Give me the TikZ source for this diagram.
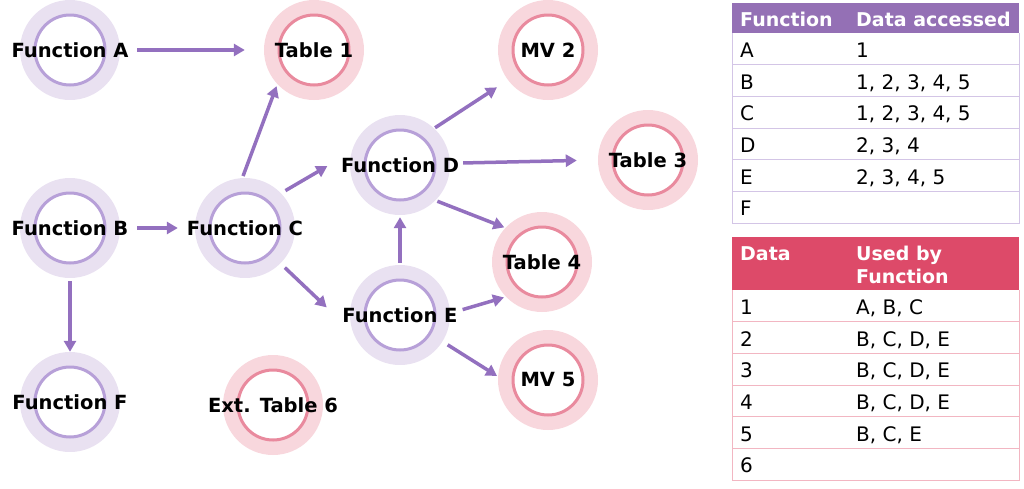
\documentclass[tikz,border=0pt]{standalone}
\usepackage{fontspec}
\setmainfont{DejaVu Sans}
\usetikzlibrary{arrows.meta}

\definecolor{fdisk}{HTML}{E9E1F1}
\definecolor{fring}{HTML}{B7A0D8}
\definecolor{tdisk}{HTML}{F8D7DD}
\definecolor{tring}{HTML}{E98A9E}
\definecolor{arrowc}{HTML}{9370BF}
\definecolor{headp}{HTML}{9470B5}
\definecolor{headr}{HTML}{DD4A69}
\definecolor{linep}{HTML}{D3C5E6}
\definecolor{liner}{HTML}{F2B6C2}

\tikzset{
  func/.style={circle, minimum size=100pt, inner sep=0pt, fill=fdisk,
    path picture={\draw[fring, line width=3pt, fill=white] (path picture bounding box.center) circle (35pt);}},
  tabl/.style={circle, minimum size=100pt, inner sep=0pt, fill=tdisk,
    path picture={\draw[tring, line width=3pt, fill=white] (path picture bounding box.center) circle (35pt);}},
  every label/.style={font=\fontsize{19.5}{22}\selectfont\bfseries, inner sep=0pt},
  link/.style={draw=arrowc, line width=3.5pt, -{Triangle[length=11pt,width=12pt]}},
  cell/.style={anchor=base west, inner sep=0pt, font=\fontsize{20}{22}\selectfont},
  head/.style={cell, text=white, font=\fontsize{19}{22}\selectfont\bfseries},
}

\begin{document}
\begin{tikzpicture}[x=1pt, y=-1pt]
\useasboundingbox (0,0) rectangle (1024,488);

% functions
\node[func, label=center:Function A] (fa) at (70,50) {};
\node[func, label=center:Function B] (fb) at (70,228) {};
\node[func, label=center:Function C] (fc) at (245,228) {};
\node[func, label=center:Function D] (fd) at (400,165) {};
\node[func, label=center:Function E] (fe) at (400,315) {};
\node[func, label=center:Function F] (ff) at (70,402) {};

% data
\node[tabl, label=center:Table 1] (t1) at (314,50) {};
\node[tabl, label=center:MV 2] (m2) at (548,50) {};
\node[tabl, label=center:Table 3] (t3) at (648,160) {};
\node[tabl, label=center:Table 4] (t4) at (542,262) {};
\node[tabl, label=center:MV 5] (m5) at (548,380) {};
\node[tabl, label=center:Ext. Table 6] (t6) at (273,405) {};

% arrows
\draw[link, shorten <=17pt, shorten >=19pt] (fa.east) -- (t1.west);
\draw[link, shorten <=17pt, shorten >=17pt] (fb.east) -- (fc.west);
\draw[link, shorten <=3pt] (fb.south) -- (ff.north);
\draw[link, shorten <=2pt, shorten >=2pt] (fc.93) -- (t1.223);
\draw[link, shorten <=5pt, shorten >=28pt] (fc.44) -- (fd.165);
\draw[link, shorten <=6pt, shorten >=36pt] (fc.-45) -- (fe.200);
\draw[link, shorten <=1pt, shorten >=13pt] (fd.47) -- (m2.217);
\draw[link, shorten <=13pt, shorten >=21pt] (fd.2) -- (t3.180);
\draw[link, shorten <=2pt, shorten >=1pt] (fd.-45) -- (t4.137);
\draw[link, shorten <=2pt, shorten >=2pt] (fe.north) -- (fd.south);
\draw[link, shorten <=13pt, shorten >=2pt] (fe.2) -- (t4.224);
\draw[link, shorten <=6pt, shorten >=1pt] (fe.-32) -- (m5.176);

% table of functions
\fill[headp] (732,3) rectangle (1019,33);
\draw[linep, line width=1pt] (732,33) -- (732,223) -- (1019,223) -- (1019,33);
\foreach \y in {64.7,96.3,128,159.7,191.3}
  \draw[linep, line width=1pt] (732,\y) -- (1019,\y);
\node[head] (ta-h1) at (740,26) {Function};
\node[head] (ta-h2) at (856,26) {Data accessed};
\foreach \f/\d [count=\i] in {A/1, B/{1, 2, 3, 4, 5}, C/{1, 2, 3, 4, 5}, D/{2, 3, 4}, E/{2, 3, 4, 5}, F/{}} {
  \node[cell] (ta-f\i) at (740, {57.5+31.67*(\i-1)}) {\f};
  \node[cell] (ta-d\i) at (856, {57.5+31.67*(\i-1)}) {\d};
}

% table of data
\fill[headr] (732,237) rectangle (1019,290);
\draw[liner, line width=1pt] (732,290) -- (732,480) -- (1019,480) -- (1019,290);
\foreach \y in {321.7,353.3,385,416.7,448.3}
  \draw[liner, line width=1pt] (732,\y) -- (1019,\y);
\node[head] (tb-h1) at (740,260) {Data};
\node[head] (tb-h2) at (856,260) {Used by};
\node[head] (tb-h3) at (856,283) {Function};
\foreach \n/\u [count=\i] in {1/{A, B, C}, 2/{B, C, D, E}, 3/{B, C, D, E}, 4/{B, C, D, E}, 5/{B, C, E}, 6/{}} {
  \node[cell] (tb-n\i) at (740, {314.5+31.67*(\i-1)}) {\n};
  \node[cell] (tb-u\i) at (856, {314.5+31.67*(\i-1)}) {\u};
}
\end{tikzpicture}
\end{document}
